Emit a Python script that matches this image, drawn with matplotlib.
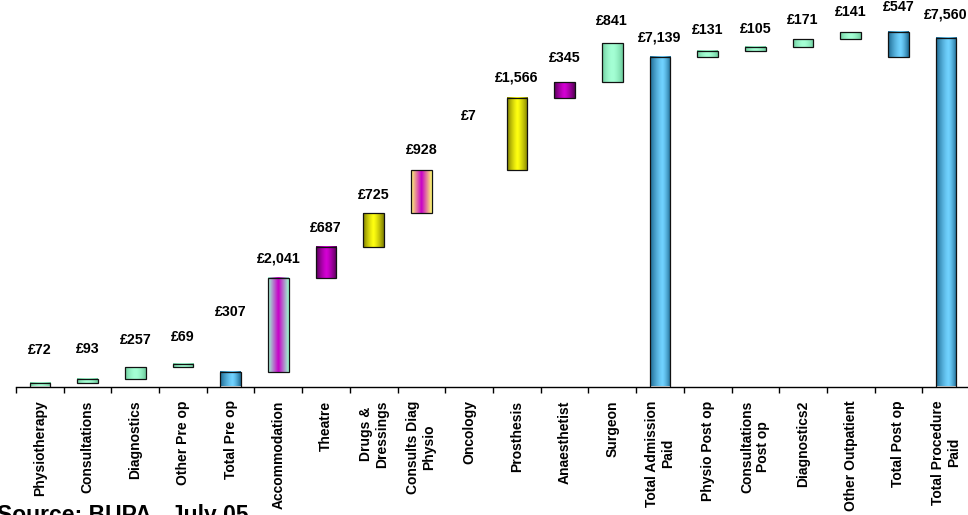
import numpy as np
import matplotlib
matplotlib.use("Agg")
import matplotlib.pyplot as plt
from matplotlib.colors import to_rgb

# ---------------- data ----------------
categories = ["Physiotherapy", "Consultations", "Diagnostics", "Other Pre op", "Total Pre op",
              "Accommodation", "Theatre", "Drugs &\nDressings", "Consults Diag\nPhysio", "Oncology",
              "Prosthesis", "Anaesthetist", "Surgeon", "Total Admission\nPaid", "Physio Post op",
              "Consultations\nPost op", "Diagnostics2", "Other Outpatient", "Total Post op",
              "Total Procedure\nPaid"]
values = [72, 93, 257, 69, 307,
          2041, 687, 725, 928, 7,
          1566, 345, 841, 7139, 131,
          105, 171, 141, 547, 7560]
# item: stacks on running total; subtotal: drawn from group start; total: drawn from zero
kinds = ["item", "item", "item", "item", "subtotal",
         "item", "item", "item", "item", "item",
         "item", "item", "item", "total", "item",
         "item", "item", "item", "subtotal", "total"]
fills = ["mint", "mint", "mint", "mint", "blue",
         "accom", "magenta", "yellow", "consult", "yellow",
         "yellow", "magenta", "mint", "blue", "mint",
         "mint", "mint", "mint", "blue", "blue"]
value_labels = ["£{:,}".format(v) for v in values]
source_text = "Source: BUPA,  July 05"

# ---------------- style ----------------
label_offsets_px = [33, 30, 27, 27, 60, 20, 19, 18, 20, 54,
                    20, 24, 22, 20, 21, 18, 19, 20, 25, 23]
palette = {
    "mint":    ("#6CCB9C", "#A4FFD4", 1.8, 0.5),
    "blue":    ("#1C6890", "#70D2FF", 1.4, 0.6),
    "magenta": ("#560056", "#D400D4", 1.3, 0.5),
    "yellow":  ("#7F7F00", "#FFFF10", 1.3, 0.5),
    "accom":   ("#9CFFD0", "#C800C8", 1.0, 0.5),
    "consult": ("#FFFF70", "#C800C8", 1.0, 0.5),
}
FONT = ["Liberation Sans", "DejaVu Sans"]
plt.rcParams["font.family"] = FONT

W, H, DPI = 968, 515, 100
fig = plt.figure(figsize=(W / DPI, H / DPI), dpi=DPI)
axis_y_px = 386.5
ax = fig.add_axes([16 / W, (H - axis_y_px) / H, 954 / W, axis_y_px / H])
px_per_unit = 0.0461
ymax = axis_y_px / px_per_unit

# compute waterfall bottoms
bottoms = []
running = 0.0
group_start = 0.0
for v, k in zip(values, kinds):
    if k == "item":
        bottoms.append(running)
        running += v
    elif k == "subtotal":
        bottoms.append(group_start)
        running = group_start + v
        group_start = running
    else:
        bottoms.append(0.0)
        running = v
        group_start = v

x = np.arange(len(categories))
bw = 0.43


def gradient_bar(xc, b, h, key):
    edge, center, p, peak = palette[key]
    e = np.array(to_rgb(edge))
    c = np.array(to_rgb(center))
    t = np.linspace(0, 1, 80)
    w = np.where(t < peak, (peak - t) / peak, (t - peak) / (1 - peak))
    w = np.clip(w, 0, 1) ** p
    cols = c[None, :] * (1 - w[:, None]) + e[None, :] * w[:, None]
    ax.imshow(cols[None, :, :], extent=[xc - bw / 2, xc + bw / 2, b, b + h],
              aspect="auto", interpolation="bilinear", zorder=2)


for xi, b, v, f in zip(x, bottoms, values, fills):
    # bars thinner than one pixel are not drawn (as in the reference)
    if v * px_per_unit < 1:
        continue
    gradient_bar(xi, b, v, f)
    ax.bar(xi, v, bw, bottom=b, facecolor="none", edgecolor="#111111",
           linewidth=0.9, zorder=3)

for xi, b, v, lab, off in zip(x, bottoms, values, value_labels, label_offsets_px):
    ax.annotate(lab, (xi, b + v), xytext=(0, off * 72 / DPI), textcoords="offset points",
                ha="center", va="center", fontsize=10.3, fontweight="bold",
                annotation_clip=False, zorder=5)

ax.set_xlim(-0.5, len(categories) - 0.5)
ax.set_ylim(0, ymax)
for s in ["top", "right", "left"]:
    ax.spines[s].set_visible(False)
ax.spines["bottom"].set_linewidth(1.0)
ax.set_yticks([])
ax.set_xticks(x)
ax.set_xticklabels(categories, rotation=90, fontsize=10, fontweight="bold",
                   ha="center", va="top", multialignment="center")
ax.set_xticks(np.arange(-0.5, len(categories)), minor=True)
ax.tick_params(axis="x", which="major", length=0, pad=10)
ax.tick_params(axis="x", which="minor", length=4.5, width=1.0, direction="out")

fig.text(-3 / W, (H - 522) / H, source_text, fontsize=16.5, fontweight="bold",
         ha="left", va="baseline")

fig.savefig("out.png", dpi=DPI)
